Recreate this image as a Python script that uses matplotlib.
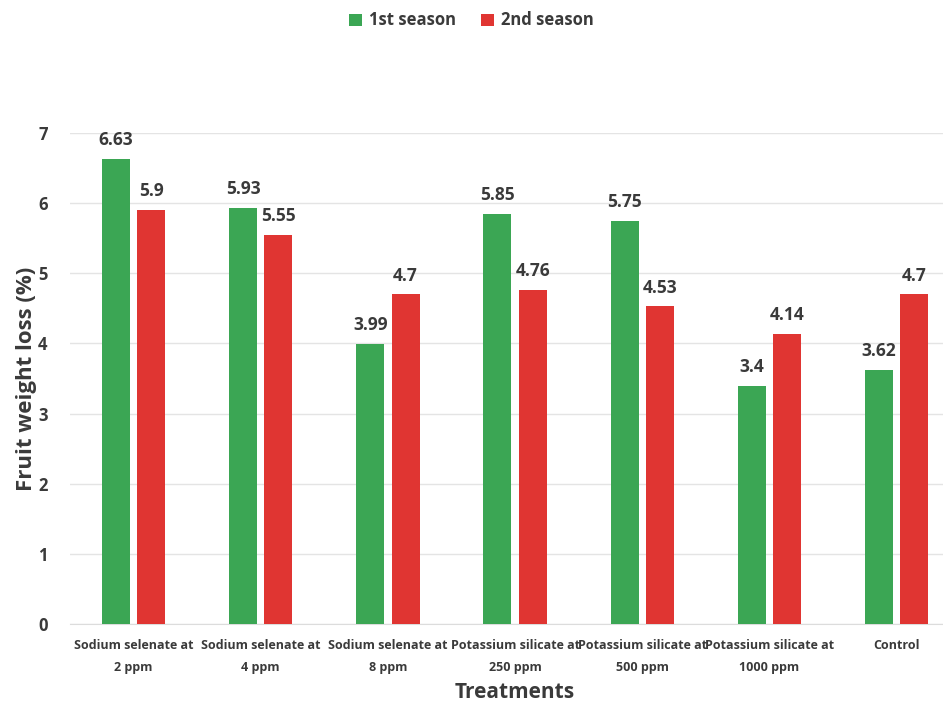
import matplotlib.pyplot as plt
import numpy as np

plt.rcParams['font.family'] = ['Open Sans', 'DejaVu Sans']

# Data
treatments = ['Sodium selenate at\n2 ppm', 'Sodium selenate at\n4 ppm', 'Sodium selenate at\n8 ppm',
              'Potassium silicate at\n250 ppm', 'Potassium silicate at\n500 ppm',
              'Potassium silicate at\n1000 ppm', 'Control']
season1 = [6.63, 5.93, 3.99, 5.85, 5.75, 3.4, 3.62]
season2 = [5.9, 5.55, 4.7, 4.76, 4.53, 4.14, 4.7]

green = '#3ba654'
red = '#e03532'
txt = '#3a3a3a'

fig = plt.figure(figsize=(9.43, 7.04), dpi=100)
ax = fig.add_axes([0.0742, 0.1136, 0.944, 0.6974])

x = np.arange(len(treatments))
w = 0.22
off = 0.139
b1 = ax.bar(x - off, season1, w, color=green, label='1st season', zorder=3)
b2 = ax.bar(x + off, season2, w, color=red, label='2nd season', zorder=3)

for bars, vals in [(b1, season1), (b2, season2)]:
    for r, v in zip(bars, vals):
        ax.annotate(f'{v:g}', (r.get_x() + r.get_width() / 2, v), xytext=(0, 7),
                    textcoords='offset points', ha='center', va='bottom',
                    fontsize=12.5, fontweight='bold', color=txt)

ax.set_xlim(-0.5, len(treatments) - 0.5)
ax.set_ylim(0, 7)
ax.set_yticks(range(0, 8))
ax.set_xticks(x)
ax.set_xticklabels(treatments, fontsize=9, fontweight='bold', color=txt, linespacing=1.85)
ax.tick_params(axis='y', labelsize=12, labelcolor=txt, length=0, pad=16)
ax.tick_params(axis='x', length=0, pad=11)
for lab in ax.get_yticklabels():
    lab.set_fontweight('bold')

ax.grid(axis='y', color='#e4e4e4', linewidth=1, zorder=0)
for s in ['top', 'right', 'left']:
    ax.spines[s].set_visible(False)
ax.spines['bottom'].set_color('#dcdcdc')

ax.set_ylabel('Fruit weight loss (%)', fontsize=16, fontweight='bold', color=txt)
ax.yaxis.set_label_coords(-0.037, 0.5)
ax.set_xlabel('Treatments', fontsize=15, fontweight='bold', color=txt)
ax.xaxis.set_label_coords(0.5, -0.119)

fig.legend(loc='upper center', bbox_to_anchor=(0.5, 1.005), ncol=2, frameon=False,
           handlelength=0.75, handleheight=0.75, columnspacing=1.5,
           handletextpad=0.45, prop={'weight': 'bold', 'size': 12}, labelcolor=txt)

fig.savefig('out.png', dpi=100)
